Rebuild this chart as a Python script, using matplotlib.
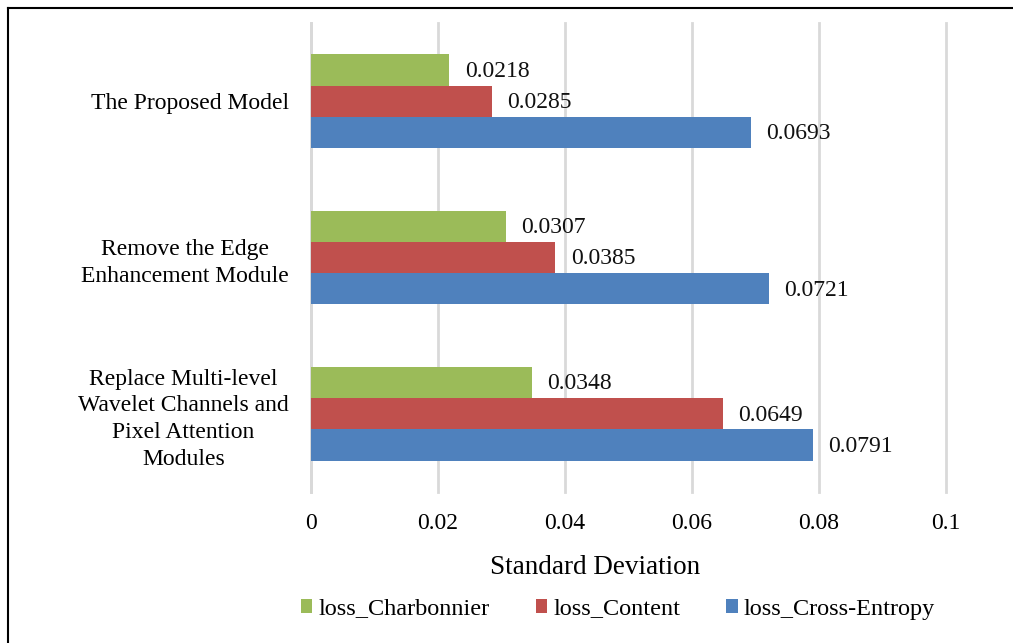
import numpy as np
import matplotlib.pyplot as plt
from matplotlib.lines import Line2D

categories = [
    "The Proposed Model",
    "Remove the Edge\nEnhancement Module",
    "Replace Multi-level\nWavelet Channels and\nPixel Attention\nModules",
]
series_names = ["loss_Charbonnier", "loss_Content", "loss_Cross-Entropy"]
charbonnier = [0.0218, 0.0307, 0.0348]
content = [0.0285, 0.0385, 0.0649]
cross_entropy = [0.0693, 0.0721, 0.0791]
colors = ["#9BBB59", "#C0504D", "#4F81BD"]
xticks = [0, 0.02, 0.04, 0.06, 0.08, 0.1]
xtick_labels = ["0", "0.02", "0.04", "0.06", "0.08", "0.1"]

plt.rcParams["font.family"] = ["Liberation Serif", "DejaVu Serif"]

fig = plt.figure(figsize=(10.13, 6.43), dpi=100)
W, H = 1013, 643
ax = fig.add_axes([311 / W, 1 - 492 / H, (946 - 311) / W, (492 - 23) / H])

# frame lines (top and left visible in the reference)
fig.add_artist(Line2D([8 / W, 8 / W], [0, 1 - 8 / H], color="black", lw=1.5,
                      transform=fig.transFigure))
fig.add_artist(Line2D([8 / W, 1], [1 - 8 / H, 1 - 8 / H], color="black", lw=1.5,
                      transform=fig.transFigure))

n = len(categories)
y = np.arange(n)
h = 0.2
all_series = [charbonnier, content, cross_entropy]
for i, (vals, name, c) in enumerate(zip(all_series, series_names, colors)):
    pos = y + (i - 1) * h
    bars = ax.barh(pos, vals, height=h, color=c, label=name, zorder=3)
    for b, v in zip(bars, vals):
        ax.annotate(f"{v:.4f}", (v, b.get_y() + b.get_height() / 2),
                    xytext=(11, -1), textcoords="offset points",
                    ha="left", va="center", fontsize=17, color="#111111")

ax.set_ylim(n - 0.5, -0.5)
ax.set_xlim(0, 0.1)
ax.set_yticks(y)
ax.set_yticklabels(categories, fontsize=17, multialignment="center",
                   linespacing=1.35)
ax.set_xticks(xticks)
ax.set_xticklabels(xtick_labels, fontsize=17)
ax.tick_params(axis="both", length=0)
ax.tick_params(axis="x", pad=15)
ax.tick_params(axis="y", pad=16)
ax.grid(axis="x", color="#D9D9D9", lw=2, zorder=0)
for gl in ax.get_xgridlines():
    gl.set_clip_on(False)
for s in ["top", "right", "bottom"]:
    ax.spines[s].set_visible(False)
ax.spines["left"].set_color("#D9D9D9")
ax.spines["left"].set_linewidth(2)
ax.set_xlabel("Standard Deviation", fontsize=19.5)
ax.xaxis.set_label_coords((595 - 311) / 635, (492 - 555) / 469)

handles, labels = ax.get_legend_handles_labels()
fig.legend(handles, labels, loc="center", bbox_to_anchor=(618 / W, 1 - 609 / H),
           ncol=3, frameon=False, fontsize=17.5, handlelength=0.47, handleheight=0.47,
           handletextpad=0.25, columnspacing=1.9)

fig.savefig("out.png", dpi=100)
